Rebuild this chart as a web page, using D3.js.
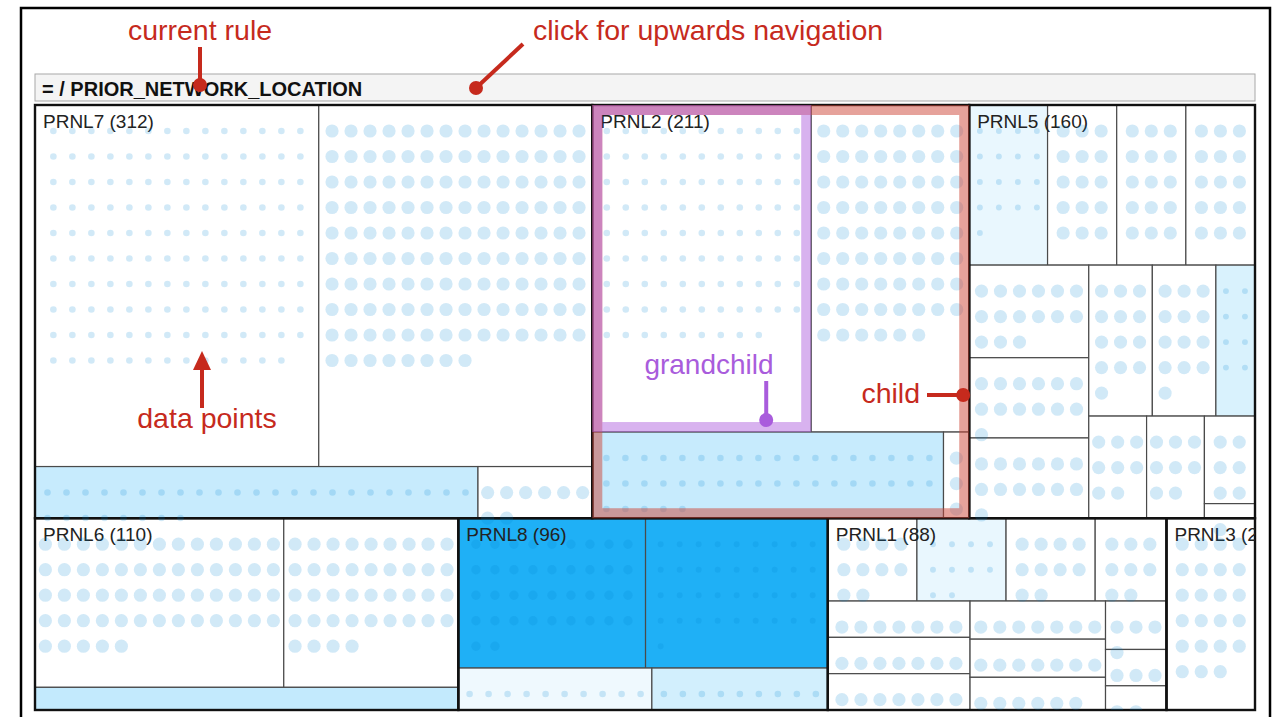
<!DOCTYPE html>
<html>
<head>
<meta charset="utf-8">
<script src="https://cdn.jsdelivr.net/npm/d3@7"></script>
<style>
  body { margin: 0; background: #fff; }
  svg { display: block; font-family: "Liberation Sans", Arial, sans-serif; }
</style>
</head>
<body>
<svg width="1278" height="717"></svg>
<script>
// current rule shown in the header bar
const currentRule = '= / PRIOR_NETWORK_LOCATION'

// leaves of the treemap: row / group / part / cell
const leafPaths = [
  'r0/PRNL7/a/1', 'r0/PRNL7/a/2', 'r0/PRNL7/b/1', 'r0/PRNL7/b/2',
  'r0/PRNL2/a/1', 'r0/PRNL2/a/2', 'r0/PRNL2/b/1', 'r0/PRNL2/b/2',
  'r0/PRNL5/a/1', 'r0/PRNL5/a/2', 'r0/PRNL5/a/3', 'r0/PRNL5/a/4',
  'r0/PRNL5/b/c/1', 'r0/PRNL5/b/c/2', 'r0/PRNL5/b/c/3',
  'r0/PRNL5/b/d/e/1', 'r0/PRNL5/b/d/e/2', 'r0/PRNL5/b/d/e/3',
  'r0/PRNL5/b/d/f/1', 'r0/PRNL5/b/d/f/2', 'r0/PRNL5/b/d/f/g/1', 'r0/PRNL5/b/d/f/g/2',
  'r1/PRNL6/a/1', 'r1/PRNL6/a/2', 'r1/PRNL6/b',
  'r1/PRNL8/a/1', 'r1/PRNL8/a/2', 'r1/PRNL8/b/1', 'r1/PRNL8/b/2',
  'r1/PRNL1/a/1', 'r1/PRNL1/a/2', 'r1/PRNL1/a/3', 'r1/PRNL1/a/4',
  'r1/PRNL1/b/c/1', 'r1/PRNL1/b/c/2', 'r1/PRNL1/b/c/3',
  'r1/PRNL1/b/d/1', 'r1/PRNL1/b/d/2', 'r1/PRNL1/b/d/3',
  'r1/PRNL1/b/e/1', 'r1/PRNL1/b/e/2', 'r1/PRNL1/b/e/3',
  'r1/PRNL3'
]

// number of data points in each leaf
const leafCounts = [
  139, 134, 31, 8,
  97, 70, 41, 3,
  17, 15, 15, 15,
  15, 13, 13,
  13, 13, 8,
  8, 8, 6, 1,
  57, 40, 13,
  38, 37, 11, 10,
  10, 10, 10, 8,
  7, 7, 7,
  7, 7, 6,
  4, 3, 2,
  23
]

// share of selected points in each leaf (fill colour)
const leafShare = [
  0, 0, 0.25, 0,
  0, 0, 0.25, 0,
  0.1, 0, 0, 0,
  0, 0, 0,
  0, 0, 0.17,
  0, 0, 0, 0,
  0, 0, 0.27,
  1, 1, 0.07, 0.2,
  0, 0.1, 0, 0,
  0, 0, 0,
  0, 0, 0,
  0, 0, 0,
  0
]

// weight of the points in each leaf (dot size)
const leafWeight = [
  0.25, 1, 0.25, 1,
  0.25, 1, 0.25, 1,
  0.2, 1, 1, 1,
  1, 1, 1,
  1, 1, 0.2,
  1, 1, 1, 1,
  1, 1, 0.25,
  0.5, 0.2, 0.25, 0.25,
  1, 0.2, 1, 1,
  1, 1, 1,
  1, 1, 1,
  1, 1, 1,
  1
]

const svg = d3.select('svg')
const margin = {top: 105, left: 35}
const innerWidth = 1220
const innerHeight = 605

const leafData = leafPaths.map((p, i) => ({
  path: p, count: leafCounts[i], share: leafShare[i], weight: leafWeight[i], i
}))

// hierarchy from the paths, keep the order of the lists
const root = d3.stratify().path(d => d.path)(leafData)
  .sum(d => d ? d.count : 0)
  .sort((a, b) => d3.min(a.leaves(), l => l.data.i) - d3.min(b.leaves(), l => l.data.i))

// rows stacked, then side by side, alternating per depth
const tile = (node, x0, y0, x1, y1) =>
  (node.depth % 2 ? d3.treemapDice : d3.treemapSlice)(node, x0, y0, x1, y1)

d3.treemap().tile(tile).size([innerWidth, innerHeight])(root)

const nameOf = d => d.id.split('/').pop()
const fill = d3.scaleLinear().domain([0, 1]).range(['#ffffff', '#1fb0f6'])
const radius = d3.scaleSqrt().domain([0, 1]).range([0, 6.6])

// outer frame
svg.append('rect')
  .attr('x', 21).attr('y', 8).attr('width', 1249).attr('height', 760)
  .attr('fill', 'none').attr('stroke', '#000').attr('stroke-width', 2.5)

// header bar with the current rule
svg.append('rect')
  .attr('x', margin.left).attr('y', 74).attr('width', innerWidth).attr('height', 27)
  .attr('fill', '#f4f4f4').attr('stroke', '#a8a8a8')
svg.append('text')
  .attr('x', margin.left + 7).attr('y', 96)
  .attr('font-size', 20).attr('font-weight', 'bold').attr('fill', '#111')
  .text(currentRule)

const g = svg.append('g')
  .attr('transform', `translate(${margin.left}, ${margin.top})`)

const defs = svg.append('defs')
defs.append('clipPath').attr('id', 'clip-all')
  .append('rect').attr('width', innerWidth).attr('height', innerHeight)

// leaf cells
g.selectAll('rect.leaf').data(root.leaves())
  .enter().append('rect')
  .attr('class', 'leaf')
  .attr('x', d => d.x0).attr('y', d => d.y0)
  .attr('width', d => d.x1 - d.x0).attr('height', d => d.y1 - d.y0)
  .attr('fill', d => fill(d.data.share))
  .attr('stroke', '#4a4a4a').attr('stroke-width', 1.2)

// groups (PRNL..)
const groups = root.descendants().filter(d => d.depth === 2)

groups.forEach((d, i) => {
  defs.append('clipPath').attr('id', 'clip-' + i)
    .append('rect')
    .attr('x', d.x0).attr('y', d.y0)
    .attr('width', d.x1 - d.x0).attr('height', d.y1 - d.y0)
})

g.selectAll('rect.group').data(groups)
  .enter().append('rect')
  .attr('class', 'group')
  .attr('x', d => d.x0).attr('y', d => d.y0)
  .attr('width', d => d.x1 - d.x0).attr('height', d => d.y1 - d.y0)
  .attr('fill', 'none').attr('stroke', '#111').attr('stroke-width', 2.4)

// label is clipped by its own cell, like the narrow PRNL3
g.selectAll('text.label').data(groups)
  .enter().append('text')
  .attr('class', 'label')
  .attr('clip-path', (d, i) => `url(#clip-${i})`)
  .attr('x', d => d.x0 + 8).attr('y', d => d.y0 + 23)
  .attr('font-size', 19).attr('fill', '#222')
  .text(d => `${nameOf(d)} (${d.value})`)

// one dot per data point, in a grid per leaf
const stepX = 19
const stepY = 25.5
const dots = []
root.leaves().forEach(d => {
  const w = d.x1 - d.x0
  const cols = Math.max(1, Math.floor(w / stepX))
  const left = d.x0 + (w - (cols - 1) * stepX) / 2
  for (let k = 0; k < d.data.count; k++) {
    dots.push({
      x: left + (k % cols) * stepX,
      y: d.y0 + 26 + Math.floor(k / cols) * stepY,
      r: radius(d.data.weight)
    })
  }
})

g.append('g').attr('clip-path', 'url(#clip-all)')
  .selectAll('circle').data(dots)
  .enter().append('circle')
  .attr('cx', d => d.x).attr('cy', d => d.y).attr('r', d => d.r)
  .attr('fill', 'rgb(0,135,210)').attr('fill-opacity', 0.18)

// highlighted child and grandchild
const child = groups.find(d => nameOf(d) === 'PRNL2')
const grandchild = child.leaves()[0]
const band = (node, colour) => g.append('rect')
  .attr('x', node.x0 + 5).attr('y', node.y0 + 5)
  .attr('width', node.x1 - node.x0 - 10).attr('height', node.y1 - node.y0 - 10)
  .attr('fill', 'none').attr('stroke', colour).attr('stroke-width', 10)
  .attr('stroke-opacity', 0.5)
band(child, 'rgb(205,70,55)')
band(grandchild, 'rgb(178,102,224)')

// annotations
const red = '#c62a1d'
const purple = '#a95cdc'
const note = svg.append('g').attr('font-size', 28.5)

const callout = (x1, y1, x2, y2, colour) => {
  note.append('line')
    .attr('x1', x1).attr('y1', y1).attr('x2', x2).attr('y2', y2)
    .attr('stroke', colour).attr('stroke-width', 4)
  note.append('circle').attr('cx', x2).attr('cy', y2).attr('r', 7).attr('fill', colour)
}

note.append('text').attr('x', 200).attr('y', 40).attr('text-anchor', 'middle')
  .attr('fill', red).text('current rule')
callout(200, 47, 200, 85, red)

note.append('text').attr('x', 533).attr('y', 40)
  .attr('fill', red).text('click for upwards navigation')
callout(523, 44, 476, 88, red)

note.append('text').attr('x', 207).attr('y', 428).attr('text-anchor', 'middle')
  .attr('fill', red).text('data points')
note.append('line').attr('x1', 202).attr('y1', 408).attr('x2', 202).attr('y2', 366)
  .attr('stroke', red).attr('stroke-width', 4)
note.append('path').attr('d', 'M202,351 L193,370 L211,370 Z').attr('fill', red)

const gx = margin.left + grandchild.x1 - 45
const gy = margin.top + grandchild.y1 - 12
note.append('text').attr('x', 709).attr('y', 374).attr('text-anchor', 'middle')
  .attr('font-size', 28).attr('fill', purple).text('grandchild')
callout(gx, 381, gx, gy, purple)

const cx = margin.left + child.x1 - 6
note.append('text').attr('x', 920).attr('y', 403).attr('text-anchor', 'end')
  .attr('fill', red).text('child')
callout(927, 395, cx, 395, red)
</script>
</body>
</html>
